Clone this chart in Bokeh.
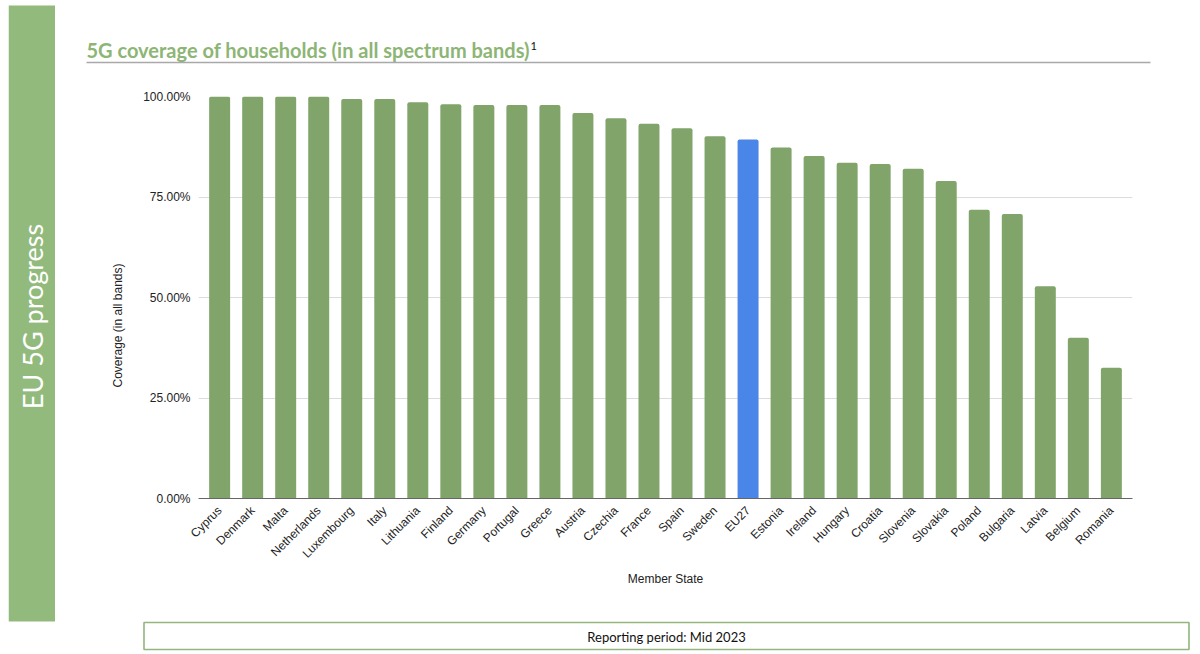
import math
from bokeh.plotting import figure
from bokeh.layouts import column, row, Spacer
from bokeh.models import (FactorRange, Range1d, NumeralTickFormatter, FixedTicker,
                          ColumnDataSource)
from bokeh.core.properties import value
from bokeh.embed import file_html
from bokeh.resources import INLINE

# ---------------- data ----------------
countries = ["Cyprus", "Denmark", "Malta", "Netherlands", "Luxembourg", "Italy",
             "Lithuania", "Finland", "Germany", "Portugal", "Greece", "Austria",
             "Czechia", "France", "Spain", "Sweden", "EU27", "Estonia", "Ireland",
             "Hungary", "Croatia", "Slovenia", "Slovakia", "Poland", "Bulgaria",
             "Latvia", "Belgium", "Romania"]
coverage = [1.000, 1.000, 1.000, 1.000, 0.994, 0.994, 0.986, 0.981, 0.979, 0.979,
            0.979, 0.959, 0.946, 0.932, 0.921, 0.901, 0.893, 0.873, 0.852, 0.835,
            0.832, 0.820, 0.790, 0.718, 0.708, 0.528, 0.400, 0.325]
highlight = "EU27"
y_ticks = [0, 0.25, 0.5, 0.75, 1.0]

title_text = "5G coverage of households (in all spectrum bands)"
footnote_mark = "1"
banner_text = "EU 5G progress"
y_title = "Coverage (in all bands)"
x_title = "Member State"
footer_text = "Reporting period: Mid 2023"

# ---------------- styles ----------------
GREEN_BAR = "#80a469"
BLUE_BAR = "#4a86e8"
BANNER = "#93ba7d"
TITLE_GREEN = "#8db575"
FOOT_LINE = "#92b67e"
TEXT = "#222222"
FONT = "Liberation Sans"

TOTAL_W, TOTAL_H = 1196, 652
TOP_H, FOOT_H = 80, 36
MID_H = TOTAL_H - TOP_H - FOOT_H      # 536
BAN_X0, BAN_W = 8, 47
BAN_X1 = BAN_X0 + BAN_W               # 55
YT_W = 85
LEFT_W = BAN_X1 + YT_W                # 140
RIGHT_W = TOTAL_W - BAN_X1            # 1141
CHART_W = TOTAL_W - LEFT_W            # 1056
CH_TOP, CH_BOT = 16, 118              # chart borders (frame = page y 96..498)
FRAME_TOP = TOP_H + CH_TOP
FRAME_BOT = TOP_H + MID_H - CH_BOT


def deco(width, height, x0, x1, y_top, y_bottom, bg="white"):
    """A plain drawing surface in page pixels (y grows downward)."""
    f = figure(width=width, height=height,
               x_range=Range1d(x0, x1), y_range=Range1d(y_bottom, y_top),
               output_backend="svg", toolbar_location=None, tools="",
               x_axis_location=None, y_axis_location=None,
               min_border=0, min_border_left=0, min_border_right=0,
               min_border_top=0, min_border_bottom=0)
    f.outline_line_color = None
    f.xgrid.visible = False
    f.ygrid.visible = False
    f.background_fill_color = bg
    f.border_fill_color = bg
    return f


# ---------- banner (one piece, full height) ----------
banner = deco(BAN_W, TOTAL_H, BAN_X0, BAN_X1, 0, TOTAL_H)
banner.quad(left=[BAN_X0], right=[BAN_X1], top=[5], bottom=[621],
            fill_color=BANNER, line_color=None)
banner.text(x=[32], y=[316], text=[banner_text], angle=math.pi / 2,
            text_font=value("Lato"), text_font_size="27px", text_color="white",
            text_align="center", text_baseline="middle")

# ---------- top strip: title ----------
top = deco(RIGHT_W, TOP_H, BAN_X1, TOTAL_W, 0, TOP_H)
top.text(x=[86], y=[49], text=[title_text], text_font=value("Lato"),
         text_font_size="20px", text_font_style="bold", text_color=TITLE_GREEN,
         text_align="left", text_baseline="middle")
top.text(x=[530], y=[45], text=[footnote_mark], text_font=value("Lato"),
         text_font_size="11px", text_color="#111111",
         text_align="left", text_baseline="middle")
top.segment(x0=[86], y0=[62], x1=[1150], y1=[62], line_color="#a9a9a9", line_width=1.5)

# ---------- y title (frame aligned with chart frame: page y FRAME_TOP..FRAME_BOT) ----------
ytitle = deco(YT_W, MID_H, BAN_X1, LEFT_W, FRAME_TOP, FRAME_BOT)
ytitle.text(x=[117], y=[325], text=[y_title], angle=math.pi / 2,
            text_font=value(FONT), text_font_size="12px", text_color=TEXT,
            text_align="center", text_baseline="middle")

# ---------- chart ----------
colors = [BLUE_BAR if c == highlight else GREEN_BAR for c in countries]
src = ColumnDataSource(dict(country=countries, cov=coverage, color=colors))

p = figure(width=CHART_W, height=MID_H,
           x_range=FactorRange(factors=countries, range_padding=0.14,
                               range_padding_units="absolute"),
           y_range=Range1d(0, 1.0),
           output_backend="svg", toolbar_location=None, tools="",
           min_border_left=57, min_border_right=64,
           min_border_top=CH_TOP, min_border_bottom=CH_BOT)
p.outline_line_color = None
p.background_fill_color = "white"
p.border_fill_color = "white"

p.vbar(x="country", top="cov", bottom=0, width=0.635, source=src,
       fill_color="color", line_color=None, border_radius=(2, 2, 0, 0))

p.xgrid.grid_line_color = None
p.ygrid.grid_line_color = "#dcdcdc"
p.ygrid.grid_line_width = 1
p.yaxis.ticker = FixedTicker(ticks=y_ticks)
p.yaxis.formatter = NumeralTickFormatter(format="0.00%")
p.yaxis.axis_line_color = None
p.yaxis.major_tick_line_color = None
p.yaxis.minor_tick_line_color = None
p.yaxis.major_tick_out = 0
p.yaxis.major_tick_in = 0
p.yaxis.major_label_standoff = 8
p.yaxis.major_label_text_font = FONT
p.yaxis.major_label_text_font_size = "12px"
p.yaxis.major_label_text_color = TEXT

p.xaxis.axis_line_color = "#666666"
p.xaxis.axis_line_width = 1
p.xaxis.major_tick_line_color = None
p.xaxis.minor_tick_line_color = None
p.xaxis.major_tick_out = 0
p.xaxis.major_tick_in = 0
p.xaxis.major_label_orientation = math.pi / 4
p.xaxis.major_label_standoff = 10
p.xaxis.major_label_text_font = FONT
p.xaxis.major_label_text_font_size = "12px"
p.xaxis.major_label_text_color = TEXT
p.xaxis.axis_label = x_title
p.xaxis.axis_label_text_font = FONT
p.xaxis.axis_label_text_font_size = "12px"
p.xaxis.axis_label_text_font_style = "normal"
p.xaxis.axis_label_text_color = TEXT
p.xaxis.axis_label_standoff = 3

# ---------- footer strip ----------
foot = deco(RIGHT_W, FOOT_H, BAN_X1, TOTAL_W, TOP_H + MID_H, TOTAL_H)
foot.quad(left=[143.5], right=[1188.5], top=[622], bottom=[649],
          fill_color="white", line_color=FOOT_LINE, line_width=1.6)
foot.text(x=[666], y=[636], text=[footer_text], text_font=value("Lato"),
          text_font_size="13px", text_color="#111111",
          text_align="center", text_baseline="middle")

right = column(top, row(ytitle, p), foot)
layout = row(Spacer(width=BAN_X0, height=TOTAL_H), banner, right)
open("out.html", "w").write(file_html(layout, INLINE))
